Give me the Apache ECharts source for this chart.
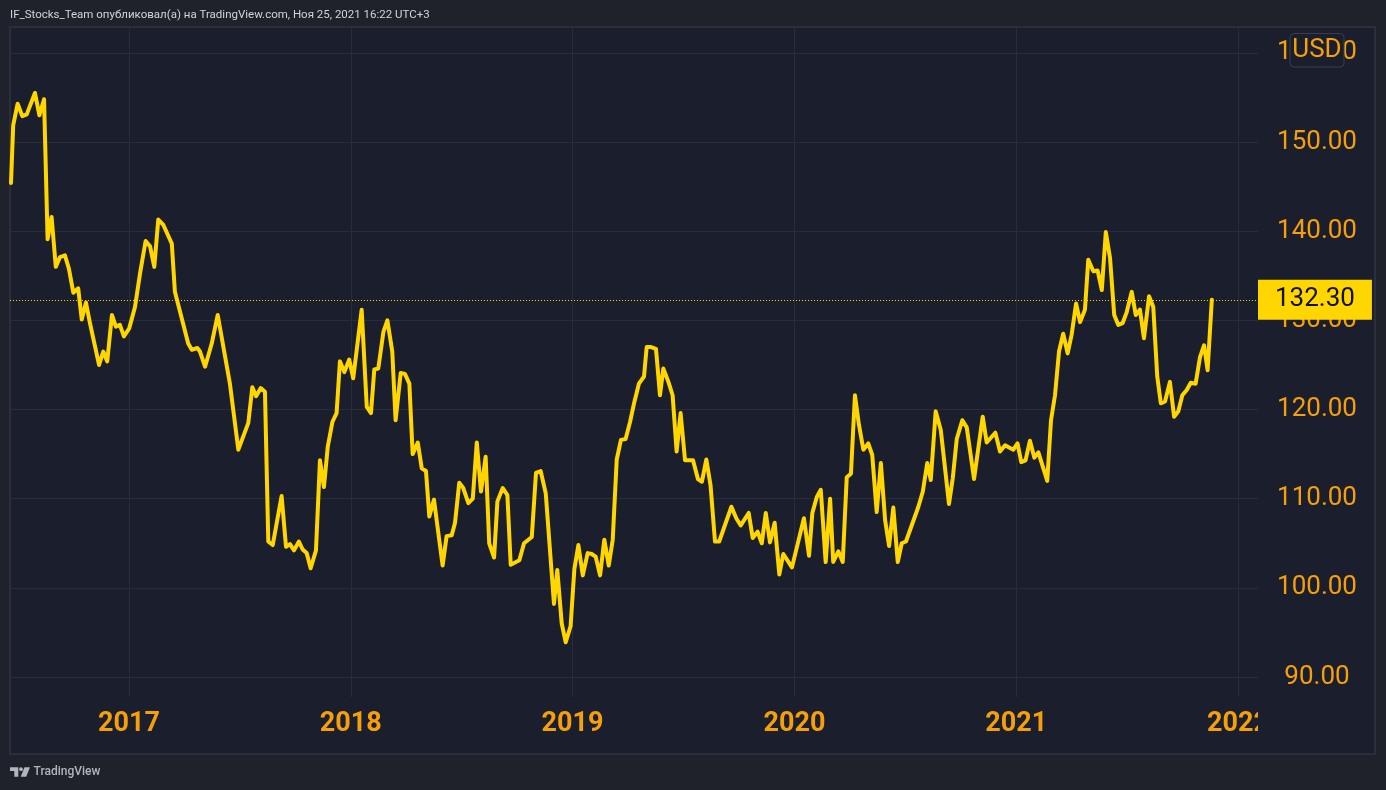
<!DOCTYPE html>
<html>
<head>
<meta charset="utf-8">
<script src="https://cdn.jsdelivr.net/npm/echarts@6/dist/echarts.min.js"></script>
<style>
  html, body { margin: 0; padding: 0; background: #1f222b; }
  #chart { width: 1386px; height: 790px; }
</style>
</head>
<body>
<div id="chart"></div>
<script>
// Time in decimal years (weekly closes)
const years = [
  2016.468, 2016.478, 2016.498, 2016.519, 2016.539, 2016.576, 2016.596, 2016.617, 2016.633, 2016.651,
  2016.670, 2016.689, 2016.711, 2016.729, 2016.749, 2016.771, 2016.787, 2016.806, 2016.824, 2016.865,
  2016.884, 2016.902, 2016.923, 2016.941, 2016.959, 2016.977, 2017.001, 2017.027, 2017.050, 2017.075,
  2017.095, 2017.114, 2017.132, 2017.155, 2017.193, 2017.207, 2017.267, 2017.283, 2017.308, 2017.320,
  2017.343, 2017.373, 2017.400, 2017.455, 2017.493, 2017.538, 2017.556, 2017.573, 2017.594, 2017.613,
  2017.628, 2017.648, 2017.688, 2017.708, 2017.726, 2017.744, 2017.766, 2017.783, 2017.801, 2017.819,
  2017.843, 2017.861, 2017.879, 2017.896, 2017.917, 2017.936, 2017.951, 2017.971, 2017.993, 2018.011,
  2018.049, 2018.072, 2018.091, 2018.106, 2018.124, 2018.147, 2018.165, 2018.187, 2018.202, 2018.225,
  2018.244, 2018.264, 2018.279, 2018.302, 2018.320, 2018.339, 2018.354, 2018.375, 2018.395, 2018.414,
  2018.432, 2018.455, 2018.470, 2018.489, 2018.507, 2018.530, 2018.550, 2018.568, 2018.587, 2018.608,
  2018.624, 2018.646, 2018.661, 2018.685, 2018.706, 2018.721, 2018.760, 2018.781, 2018.816, 2018.835,
  2018.856, 2018.879, 2018.916, 2018.931, 2018.951, 2018.969, 2018.991, 2019.008, 2019.026, 2019.046,
  2019.068, 2019.086, 2019.104, 2019.124, 2019.143, 2019.163, 2019.181, 2019.199, 2019.218, 2019.239,
  2019.259, 2019.278, 2019.299, 2019.322, 2019.334, 2019.354, 2019.376, 2019.394, 2019.409, 2019.432,
  2019.451, 2019.469, 2019.487, 2019.507, 2019.543, 2019.565, 2019.583, 2019.603, 2019.622, 2019.642,
  2019.661, 2019.716, 2019.738, 2019.758, 2019.794, 2019.812, 2019.834, 2019.853, 2019.871, 2019.890,
  2019.911, 2019.932, 2019.950, 2019.989, 2020.043, 2020.066, 2020.081, 2020.101, 2020.119, 2020.141,
  2020.161, 2020.175, 2020.198, 2020.218, 2020.236, 2020.255, 2020.273, 2020.291, 2020.311, 2020.333,
  2020.351, 2020.371, 2020.390, 2020.409, 2020.427, 2020.446, 2020.466, 2020.484, 2020.503, 2020.559,
  2020.579, 2020.599, 2020.615, 2020.637, 2020.660, 2020.697, 2020.714, 2020.732, 2020.757, 2020.777,
  2020.810, 2020.849, 2020.867, 2020.906, 2020.927, 2020.950, 2020.964, 2020.987, 2021.006, 2021.023,
  2021.042, 2021.062, 2021.082, 2021.100, 2021.140, 2021.157, 2021.175, 2021.193, 2021.212, 2021.232,
  2021.250, 2021.270, 2021.288, 2021.310, 2021.325, 2021.348, 2021.367, 2021.386, 2021.404, 2021.423,
  2021.442, 2021.460, 2021.480, 2021.498, 2021.521, 2021.539, 2021.558, 2021.576, 2021.599, 2021.618,
  2021.636, 2021.652, 2021.671, 2021.693, 2021.712, 2021.731, 2021.749, 2021.769, 2021.787, 2021.809,
  2021.829, 2021.847, 2021.863, 2021.882
];
const prices = [
  145.4, 151.9, 154.3, 152.9, 153.1, 155.5, 153.0, 154.8, 139.1, 141.6,
  136.0, 137.1, 137.3, 135.8, 133.1, 133.6, 130.1, 132.0, 129.7, 125.0,
  126.5, 125.4, 130.6, 129.3, 129.5, 128.2, 129.1, 131.5, 135.3, 138.9,
  138.3, 136.0, 141.3, 140.7, 138.6, 133.2, 127.4, 126.7, 126.9, 126.5,
  124.8, 127.4, 130.6, 122.9, 115.5, 118.5, 122.5, 121.5, 122.4, 122.0,
  105.2, 104.8, 110.3, 104.6, 104.9, 104.2, 105.2, 104.3, 103.9, 102.2,
  104.2, 114.3, 111.3, 115.8, 118.6, 119.6, 125.4, 124.2, 125.6, 123.5,
  131.2, 120.3, 119.6, 124.5, 124.6, 128.7, 130.0, 126.5, 118.8, 124.1,
  124.0, 122.9, 115.0, 116.3, 113.4, 113.1, 108.0, 109.9, 106.1, 102.5,
  105.8, 105.9, 107.3, 111.8, 111.2, 109.5, 110.0, 116.3, 110.8, 114.7,
  105.0, 103.4, 109.7, 111.2, 110.4, 102.6, 103.1, 105.0, 105.7, 112.9,
  113.1, 110.6, 98.2, 102.0, 96.0, 93.9, 95.7, 102.1, 104.8, 101.4,
  103.9, 103.8, 103.5, 101.4, 105.4, 102.5, 105.4, 114.4, 116.6, 116.7,
  118.6, 120.8, 122.9, 123.7, 127.0, 127.0, 126.8, 121.6, 124.6, 123.1,
  121.6, 115.3, 119.6, 114.3, 114.3, 112.2, 111.9, 114.4, 111.5, 105.2,
  105.2, 109.1, 107.8, 107.0, 108.4, 105.6, 106.3, 105.0, 108.4, 105.1,
  107.3, 101.5, 103.8, 102.3, 107.8, 103.6, 108.4, 110.2, 111.0, 102.9,
  110.0, 102.9, 104.1, 102.9, 112.4, 112.8, 121.6, 118.3, 115.5, 116.2,
  114.9, 108.5, 114.0, 107.6, 104.7, 109.0, 102.9, 105.0, 105.2, 109.1,
  110.8, 114.0, 112.1, 119.8, 117.7, 109.4, 112.3, 116.7, 118.8, 118.0,
  112.2, 119.2, 116.3, 117.4, 115.3, 116.0, 115.8, 115.5, 116.2, 114.1,
  114.3, 116.5, 114.6, 115.2, 112.0, 118.8, 121.6, 126.5, 128.5, 126.3,
  128.4, 131.9, 129.8, 131.2, 136.8, 135.5, 135.6, 133.4, 139.9, 137.0,
  130.6, 129.5, 129.7, 130.9, 133.2, 130.6, 131.2, 128.0, 132.7, 131.5,
  123.7, 120.7, 120.9, 123.1, 119.2, 119.8, 121.6, 122.2, 123.0, 122.9,
  125.9, 127.2, 124.4, 132.3
];
const yearTicks = [2017, 2018, 2019, 2020, 2021, 2022];
const priceTicks = [90, 100, 110, 120, 130, 140, 150, 160];
const lastPrice = prices[prices.length - 1];

const headerText = 'IF_Stocks_Team опубликовал(а) на TradingView.com, Ноя 25, 2021 16:22 UTC+3';
const currency = 'USD';

const ORANGE = '#f5a00a';
const PANEL = '#1b1e2d';
const GRID = '#292c3a';
const LINE = '#ffd600';

const chart = echarts.init(document.getElementById('chart'), null, { renderer: 'canvas' });
const seriesData = years.map((t, i) => [t, prices[i]]);

chart.setOption({
  backgroundColor: '#1f222b',
  animation: false,
  grid: { left: 10, right: 128, top: 27, bottom: 93, containLabel: false },
  xAxis: {
    type: 'value',
    min: 2016.4635,
    max: 2022.0902,
    axisLine: { show: false },
    axisTick: { show: false, customValues: yearTicks },
    axisLabel: {
      customValues: yearTicks,
      formatter: v => String(Math.round(v)),
      color: ORANGE,
      fontFamily: 'Roboto',
      fontWeight: 'bold',
      fontSize: 27,
      margin: 14
    },
    splitLine: { show: true, lineStyle: { color: GRID, width: 1 } }
  },
  yAxis: {
    type: 'value',
    position: 'right',
    min: 87.76,
    max: 162.9,
    axisLine: { show: false },
    axisTick: { show: false, customValues: priceTicks },
    axisLabel: {
      customValues: priceTicks,
      formatter: v => v.toFixed(2),
      color: ORANGE,
      fontFamily: 'Roboto',
      fontSize: 26,
      align: 'center',
      margin: 59
    },
    splitLine: { show: true, lineStyle: { color: GRID, width: 1 } }
  },
  series: [{
    type: 'line',
    data: seriesData,
    showSymbol: false,
    symbol: 'none',
    lineStyle: { color: LINE, width: 4, join: 'round', cap: 'round' },
    z: 5,
    markLine: {
      silent: true,
      symbol: 'none',
      animation: false,
      lineStyle: { color: LINE, width: 1, type: [1, 2] },
      label: {
        show: true,
        position: 'end',
        distance: 0,
        formatter: p => p.value.toFixed(2),
        backgroundColor: LINE,
        color: '#111111',
        fontFamily: 'Roboto',
        fontSize: 26,
        lineHeight: 26,
        padding: [7, 17, 7, 17]
      },
      data: [{ yAxis: lastPrice }]
    }
  }],
  graphic: [
    // chart panel background & border
    { type: 'rect', z: -10, silent: true,
      shape: { x: 10, y: 27, width: 1365, height: 727 },
      style: { fill: PANEL, stroke: '#2b2e3b', lineWidth: 2 } },
    // clip the year label that runs into the price scale
    { type: 'rect', z: 50, silent: true,
      shape: { x: 1258, y: 699, width: 116, height: 54 },
      style: { fill: PANEL } },
    // currency badge on the price scale
    { type: 'rect', z: 60, silent: true,
      shape: { x: 1290, y: 33.5, width: 54, height: 33.5, r: 4 },
      style: { fill: PANEL, stroke: '#3a3d4b', lineWidth: 1 } },
    { type: 'text', z: 61, silent: true,
      style: { x: 1317, y: 50.5, text: currency, fill: ORANGE, font: '26px Roboto',
               textAlign: 'center', textVerticalAlign: 'middle' } },
    // header
    { type: 'text', silent: true,
      style: { x: 10, y: 15, text: headerText, fill: '#d1d4dc', font: '11.5px Roboto',
               textAlign: 'left', textVerticalAlign: 'middle' } },
    // footer logo
    { type: 'group', silent: true, children: [
      { type: 'polygon', shape: { points: [[10, 767.3], [18.3, 767.3], [18.3, 776.7], [14.3, 776.7], [14.3, 771], [10, 771]] },
        style: { fill: '#b2b5be' } },
      { type: 'circle', shape: { cx: 21, cy: 769.2, r: 1.9 }, style: { fill: '#b2b5be' } },
      { type: 'polygon', shape: { points: [[24.5, 767.3], [30, 767.3], [26.2, 776.7], [20.7, 776.7]] },
        style: { fill: '#b2b5be' } }
    ] },
    { type: 'text', silent: true,
      style: { x: 33.5, y: 772, text: 'TradingView', fill: '#b2b5be', font: '500 12px Roboto',
               textAlign: 'left', textVerticalAlign: 'middle' } }
  ]
});
</script>
</body>
</html>
